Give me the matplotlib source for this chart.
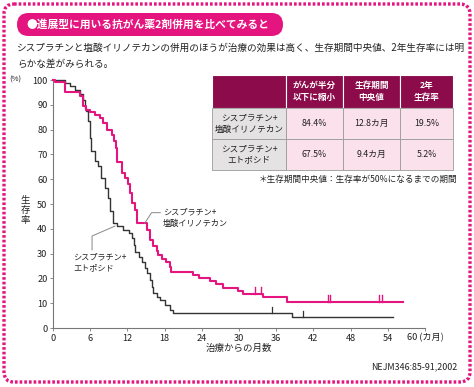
import matplotlib
matplotlib.use("Agg")
import matplotlib.pyplot as plt
from matplotlib.patches import FancyBboxPatch, Rectangle
import numpy as np

plt.rcParams['font.family'] = ['Noto Sans CJK JP', 'DejaVu Sans']

# ---------------- data ----------------
irino_t = [0, 0.3, 1.9, 4.4, 4.9, 5.4, 6.0, 6.8, 7.6, 8.1, 8.7, 9.5, 9.9, 10.1, 10.3,
           11.1, 11.6, 12.1, 12.4, 12.7, 13.2, 13.6, 15.1, 15.6, 16.2, 16.7, 17.0,
           17.5, 18.3, 18.9, 19.1, 22.6, 23.6, 25.3, 26.3, 27.4, 29.9, 30.7, 33.9,
           37.7, 56.4]
irino_s = [100, 99, 95, 93.5, 89.5, 88, 87, 86, 84.5, 82.5, 80, 78, 75.5, 72.5, 67,
           62.5, 60.5, 58, 54.5, 50.5, 47.5, 42.3, 39.5, 35.5, 33, 31, 29.5,
           28, 26.5, 24.5, 22.7, 21.5, 20, 19, 17.6, 16.3, 14.9, 13.8, 12.4,
           10.6, 10.6]
irino_censor = [32.6, 33.5, 44.3, 44.7, 52.6, 53.1]

etop_t = [0, 1.9, 2.7, 3.5, 4.4, 4.9, 5.1, 5.4, 5.7, 6.0, 6.2, 6.8, 7.3, 7.8, 8.4,
          8.9, 9.2, 9.7, 10.3, 11.3, 12.2, 12.7, 13.0, 13.3, 13.8, 14.3, 14.8,
          15.1, 15.6, 15.9, 16.2, 16.7, 17.3, 18.1, 18.9, 19.4, 21.8, 38.5, 54.8]
etop_s = [100, 98.8, 97.4, 96, 94.4, 92, 88.7, 87.4, 83.3, 76.6, 71.2, 67.2, 65.2,
          60.5, 56.5, 52.4, 47, 42.5, 41, 39.7, 38.3, 36.2, 33.5, 30.8, 28.8, 26.7,
          24.1, 22.1, 19.4, 16.7, 14.0, 12.6, 11.3, 9.3, 7.3, 5.9, 5.9, 4.4, 4.4]
etop_censor = [35.3, 40.3]

x_ticks = [0, 6, 12, 18, 24, 30, 36, 42, 48, 54, 60]
x_tick_labels = ['0', '6', '12', '18', '24', '30', '36', '42', '48', '54', '60 (カ月)']
y_ticks = [0, 10, 20, 30, 40, 50, 60, 70, 80, 90, 100]

title = '●進展型に用いる抗がん薬2剤併用を比べてみると'
intro = ['シスプラチンと塩酸イリノテカンの併用のほうが治療の効果は高く、生存期間中央値、2年生存率には明',
         'らかな差がみられる。']
label_irino = 'シスプラチン+\n塩酸イリノテカン'
label_etop = 'シスプラチン+\nエトポシド'
y_label = '生存率'

tbl_header = ['', 'がんが半分\n以下に縮小', '生存期間\n中央値', '2年\n生存率']
tbl_rows = ['シスプラチン+\n塩酸イリノテカン', 'シスプラチン+\nエトポシド']
tbl_values = [['84.4%', '12.8カ月', '19.5%'],
              ['67.5%', '9.4カ月', '5.2%']]
footnote = '＊生存期間中央値：生存率が50%になるまでの期間'
citation = 'NEJM346:85-91,2002'

PINK = '#E4157E'
DARK = '#333333'
W, H = 474, 387

fig = plt.figure(figsize=(W / 100, H / 100), dpi=100)
fig.patch.set_facecolor('white')

# background overlay in pixel coords
bg = fig.add_axes([0, 0, 1, 1], zorder=0)
bg.set_xlim(0, W)
bg.set_ylim(H, 0)
bg.axis('off')

# dotted frame
frame = FancyBboxPatch((4, 4), W - 8, H - 9, boxstyle='round,pad=0,rounding_size=10',
                       fill=False, edgecolor=PINK, linewidth=2.4,
                       linestyle=(0, (0.8, 0.6)))
bg.add_patch(frame)

# title pill
pill = FancyBboxPatch((17, 13), 266, 23, boxstyle='round,pad=0,rounding_size=11.5',
                      facecolor=PINK, edgecolor='none')
bg.add_patch(pill)
bg.text(26, 24.5, title, color='white', fontsize=7.75, fontweight='bold',
        va='center', ha='left')

bg.text(17, 48, intro[0], fontsize=6.95, va='center', ha='left', color='#222222')
bg.text(17, 64, intro[1], fontsize=6.95, va='center', ha='left', color='#222222')

# table
col_x = [212, 286, 343, 400, 453]
row_y = [75, 108, 139, 170]
HEAD = '#8C0B4B'
for j in range(4):
    bg.add_patch(Rectangle((col_x[j], row_y[0]), col_x[j + 1] - col_x[j],
                           row_y[1] - row_y[0], facecolor=HEAD,
                           edgecolor='white', linewidth=0.8))
    if tbl_header[j]:
        bg.text((col_x[j] + col_x[j + 1]) / 2, (row_y[0] + row_y[1]) / 2,
                tbl_header[j], color='white', fontsize=6.2, fontweight='bold',
                ha='center', va='center', linespacing=1.35)
for i in range(2):
    y0, y1 = row_y[i + 1], row_y[i + 2]
    bg.add_patch(Rectangle((col_x[0], y0), col_x[1] - col_x[0], y1 - y0,
                           facecolor='#E4E2E3', edgecolor='#9a9a9a', linewidth=0.6))
    bg.text((col_x[0] + col_x[1]) / 2, (y0 + y1) / 2, tbl_rows[i],
            fontsize=6.2, ha='center', va='center', linespacing=1.35, color='#222222')
    for j in range(3):
        bg.add_patch(Rectangle((col_x[j + 1], y0), col_x[j + 2] - col_x[j + 1], y1 - y0,
                               facecolor='#FBE1EC', edgecolor='#9a9a9a', linewidth=0.6))
        bg.text((col_x[j + 1] + col_x[j + 2]) / 2, (y0 + y1) / 2, tbl_values[i][j],
                fontsize=6.3, ha='center', va='center', color='#222222')
bg.text(457, 179, footnote, fontsize=6.2, ha='right', va='center', color='#222222')

bg.text(457, 367, citation, fontsize=6.4, ha='right', va='center', color='#222222')

# vertical y label, one character per row
for k, ch in enumerate(y_label):
    bg.text(25, 200 + 10 * k, ch, fontsize=6.8, ha='center', va='center',
            color='#222222')

# ---------------- plot ----------------
ax = fig.add_axes([53 / W, (H - 328) / H, 372 / W, 248 / H], zorder=1)
ax.patch.set_alpha(0)
ax.set_xlim(0, 60)
ax.set_ylim(0, 100)

ax.step(irino_t, irino_s, where='post', color=PINK, lw=1.5, clip_on=False, zorder=3)
ax.step(etop_t, etop_s, where='post', color=DARK, lw=1.0, clip_on=False, zorder=2)

def level(ts, ss, t):
    idx = np.searchsorted(ts, t, side='right') - 1
    return ss[idx]

for c in irino_censor:
    v = level(irino_t, irino_s, c)
    ax.plot([c, c], [v, v + 2.6], color=PINK, lw=1.0, zorder=3)
for c in etop_censor:
    v = level(etop_t, etop_s, c)
    ax.plot([c, c], [v, v + 2.6], color=DARK, lw=0.9, zorder=2)

# leader lines and labels
ax.plot([14.8, 15.9, 17.3], [42.3, 46.5, 46.5], color='#888888', lw=0.7, zorder=4)
ax.text(17.7, 44.5, label_irino, fontsize=5.9, ha='left', va='center',
        linespacing=1.3, color='#222222')
ax.plot([10.0, 6.3, 6.3], [41.1, 37.1, 31.5], color='#888888', lw=0.7, zorder=4)
ax.text(3.2, 26.6, label_etop, fontsize=5.9, ha='left', va='center',
        linespacing=1.3, color='#222222')

for s in ['top', 'right']:
    ax.spines[s].set_visible(False)
for s in ['left', 'bottom']:
    ax.spines[s].set_color('#777777')
    ax.spines[s].set_linewidth(0.8)
ax.set_xticks(x_ticks)
ax.set_xticklabels(x_tick_labels)
ax.set_yticks(y_ticks)
ax.tick_params(axis='both', labelsize=6.6, length=2.5, width=0.6, color='#777777',
               pad=1.5, labelcolor='#222222')
ax.set_xlabel('治療からの月数', fontsize=6.8, labelpad=1, color='#222222')
ax.text(-0.085, 1.0, '(%)', transform=ax.transAxes, fontsize=5.5, ha='right',
        va='center', color='#222222')

fig.savefig('out.png', dpi=100)
